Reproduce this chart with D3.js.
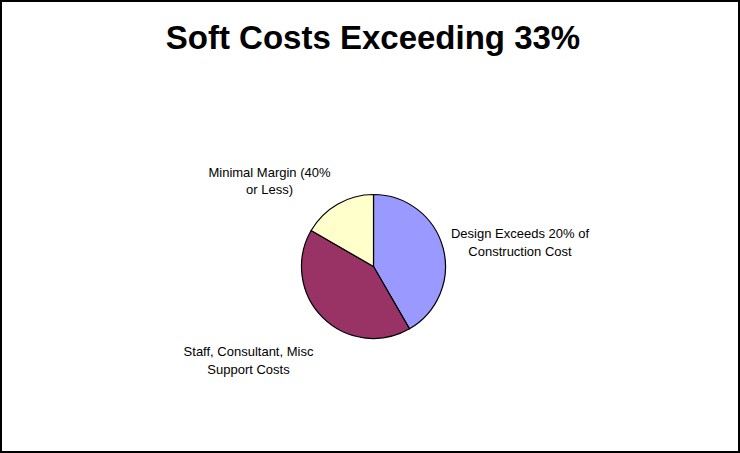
<!DOCTYPE html>
<html>
<head>
<meta charset="utf-8">
<script src="https://cdn.jsdelivr.net/npm/d3@7"></script>
<style>
  html, body { margin: 0; padding: 0; background: #fff; }
  svg { display: block; }
  text { font-family: "Liberation Sans", Arial, sans-serif; fill: #000; }
</style>
</head>
<body>
<svg id="chart" width="740" height="453"></svg>
<script>
// Slice categories (label lines) and their shares, clockwise from 12 o'clock
const categories = [
  ["Design Exceeds 20% of", "Construction Cost"],
  ["Staff, Consultant, Misc", "Support Costs"],
  ["Minimal Margin (40%", "or Less)"]
];
const values = [5, 5, 2];
const colors = ["#9999FF", "#993366", "#FFFFCC"];
const title = "Soft Costs Exceeding 33%";

const W = 740, H = 453;
const svg = d3.select("#chart");

// Outer frame
svg.append("rect")
  .attr("x", 1).attr("y", 1)
  .attr("width", W - 2).attr("height", H - 2)
  .attr("fill", "#fff")
  .attr("stroke", "#000").attr("stroke-width", 2);

// Title
svg.append("text")
  .attr("x", 373).attr("y", 49)
  .attr("text-anchor", "middle")
  .attr("font-size", 33).attr("font-weight", "bold")
  .text(title);

// Pie
const cx = 373.5, cy = 266.5, r = 72;
const pie = d3.pie().sort(null).value(d => d)(values);
const arc = d3.arc().innerRadius(0).outerRadius(r);
const g = svg.append("g").attr("transform", `translate(${cx},${cy})`);

g.selectAll("path")
  .data(pie)
  .join("path")
  .attr("d", arc)
  .attr("fill", (d, i) => colors[i])
  .attr("stroke", "#000")
  .attr("stroke-width", 1.2)
  .attr("stroke-linejoin", "round");

// Category labels, anchored relative to the pie centre (first-line baseline)
const labelPos = [[146.5, -28.5], [-125, 89.5], [-104, -89.8]];
const lineH = 17.5;
pie.forEach((d, i) => {
  const t = g.append("text")
    .attr("text-anchor", "middle")
    .attr("font-size", 13)
    .attr("transform", `translate(${labelPos[i][0]},${labelPos[i][1]})`);
  categories[i].forEach((line, k) => {
    t.append("tspan").attr("x", 0).attr("y", k * lineH).text(line);
  });
});
</script>
</body>
</html>
